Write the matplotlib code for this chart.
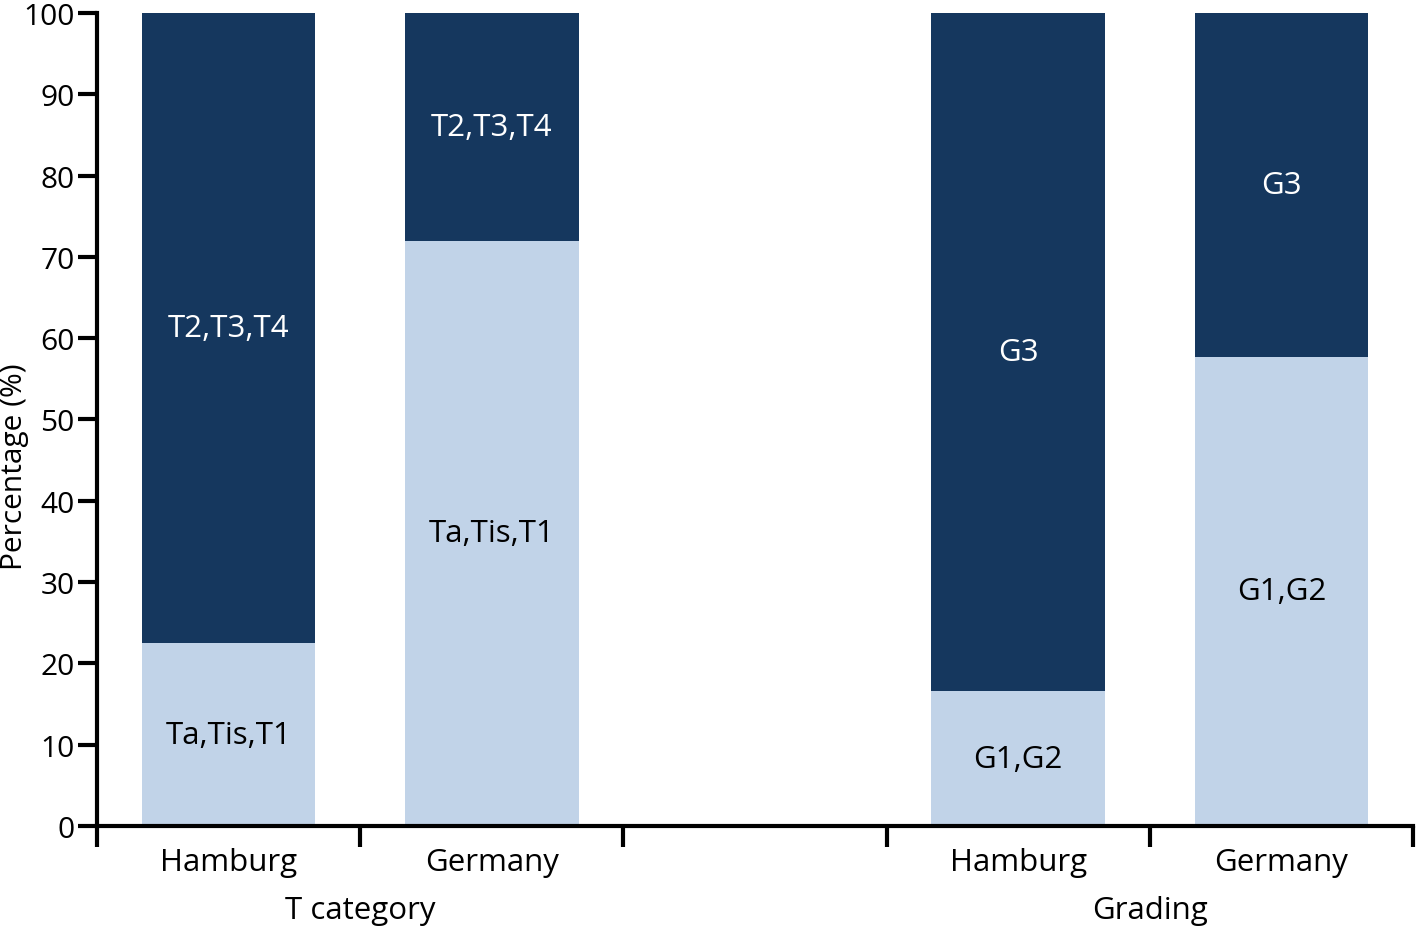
import matplotlib.pyplot as plt
import numpy as np

plt.rcParams['font.family'] = ['Open Sans', 'DejaVu Sans']

groups = ['T category', 'Grading']
regions = ['Hamburg', 'Germany', 'Hamburg', 'Germany']
positions = [0, 1, 3, 4]
lower = [22.5, 72.0, 16.6, 57.7]
lower_labels = ['Ta,Tis,T1', 'Ta,Tis,T1', 'G1,G2', 'G1,G2']
upper_labels = ['T2,T3,T4', 'T2,T3,T4', 'G3', 'G3']

light = '#c1d3e8'
dark = '#15375e'

fig = plt.figure(figsize=(14.18, 9.29), dpi=100)
ax = fig.add_axes([0.0684, 0.1098, 0.9281, 0.8752])

lower = np.array(lower)
upper = 100 - lower
width = 0.66
ax.bar(positions, lower, width=width, color=light)
ax.bar(positions, upper, bottom=lower, width=width, color=dark)

for x, lo, up, ll, ul in zip(positions, lower, upper, lower_labels, upper_labels):
    ax.text(x, lo / 2, ll, ha='center', va='center', fontsize=22.5, color='black')
    ax.text(x, lo + up / 2, ul, ha='center', va='center', fontsize=22.5, color='white')

ax.set_xlim(-0.5, 4.5)
ax.set_ylim(0, 100)
ax.set_yticks(np.arange(0, 101, 10))
ax.tick_params(axis='y', labelsize=21.5, width=3, length=14, pad=2)

ax.set_xticks(positions)
ax.set_xticklabels(regions)
ax.tick_params(axis='x', which='major', length=0, labelsize=22.5, pad=15)
ax.set_xticks(np.arange(-0.5, 5, 1), minor=True)
ax.tick_params(axis='x', which='minor', length=15, width=3)

ax.spines['top'].set_visible(False)
ax.spines['right'].set_visible(False)
ax.spines['left'].set_linewidth(3)
ax.spines['bottom'].set_linewidth(3)

ax.text(0.5, -0.103, groups[0], transform=ax.get_xaxis_transform(), ha='center', va='center', fontsize=22.5)
ax.text(3.5, -0.103, groups[1], transform=ax.get_xaxis_transform(), ha='center', va='center', fontsize=22.5)

fig.text(15 / 1418, 1 - 467 / 929, 'Percentage (%)', rotation=90, ha='center', va='center', fontsize=21.5)

fig.savefig('out.png', dpi=100)
